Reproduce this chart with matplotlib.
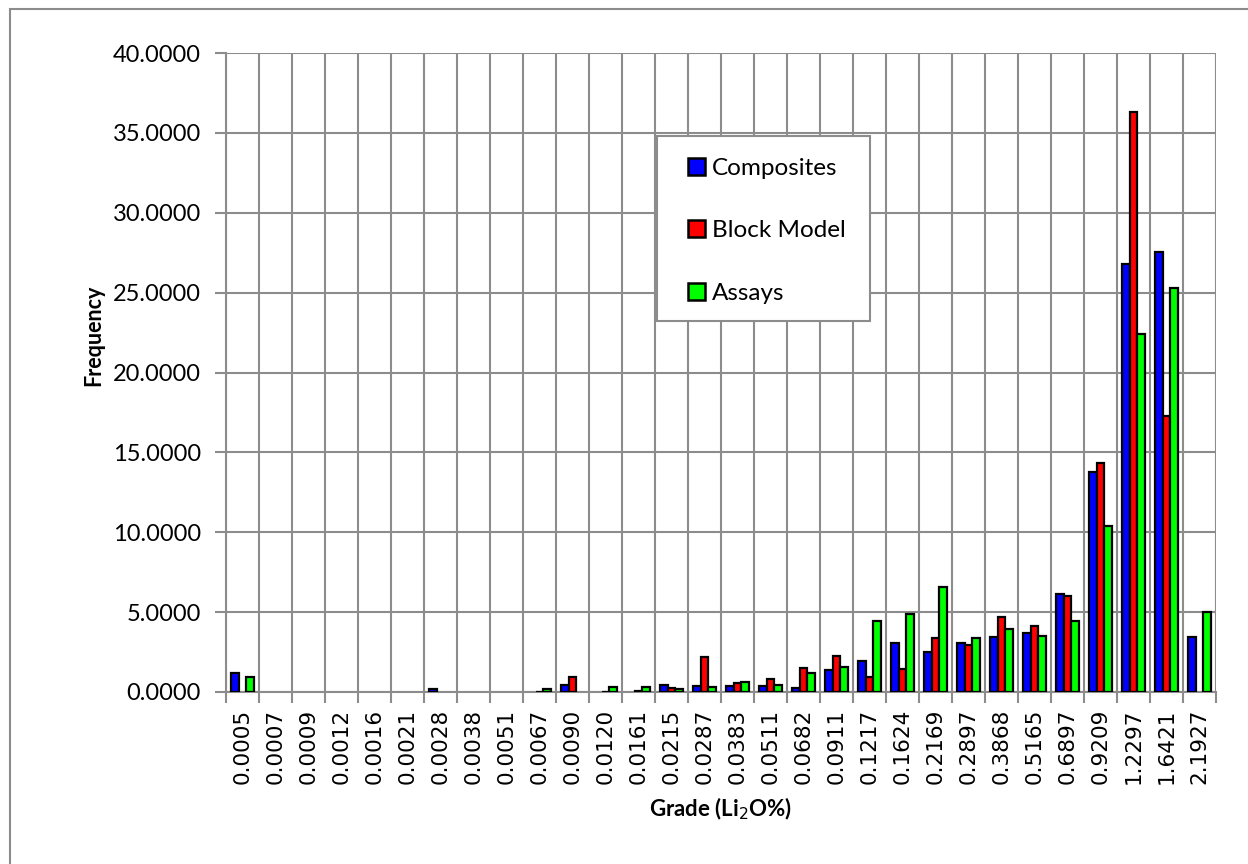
import numpy as np
import matplotlib
matplotlib.use("Agg")
import matplotlib.pyplot as plt
from matplotlib.patches import Rectangle

# Grade bins (Li2O %) and frequency per series
grades = ["0.0005", "0.0007", "0.0009", "0.0012", "0.0016", "0.0021", "0.0028",
          "0.0038", "0.0051", "0.0067", "0.0090", "0.0120", "0.0161", "0.0215",
          "0.0287", "0.0383", "0.0511", "0.0682", "0.0911", "0.1217", "0.1624",
          "0.2169", "0.2897", "0.3868", "0.5165", "0.6897", "0.9209", "1.2297",
          "1.6421", "2.1927"]
composites = [1.17, 0, 0, 0, 0, 0, 0.2, 0, 0, 0, 0.44, 0, 0, 0.42,
              0.4, 0.4, 0.4, 0.23, 1.36, 1.94, 3.09, 2.52, 3.09, 3.45,
              3.67, 6.13, 13.80, 26.78, 27.55, 3.45]
block_model = [0, 0, 0, 0, 0, 0, 0, 0, 0, 0.03, 0.92, 0.03, 0.08, 0.27,
               2.21, 0.54, 0.81, 1.48, 2.27, 0.96, 1.47, 3.39, 2.94, 4.71,
               4.12, 6.01, 14.35, 36.32, 17.25, 0]
assays = [0.96, 0, 0, 0, 0, 0, 0, 0, 0, 0.16, 0, 0.33, 0.32, 0.19,
          0.33, 0.64, 0.44, 1.21, 1.55, 4.43, 4.90, 6.55, 3.35, 3.95,
          3.50, 4.43, 10.37, 22.38, 25.28, 5.03]

font = "Lato"
grid_col = "#8c8c8c"
W, H = 1248, 864

fig = plt.figure(figsize=(12.48, 8.64), dpi=100)
ax = fig.add_axes([226 / W, 1 - 692 / H, (1216 - 226) / W, (692 - 53) / H])

# outer chart border (only top/left visible in the reference)
fig.patches.append(Rectangle((10 / W, -0.1), 1.2, 1 - 9 / H + 0.1,
                             transform=fig.transFigure, fill=False,
                             edgecolor=grid_col, linewidth=1.5))

x = np.arange(len(grades))
w = 0.225
kw = dict(edgecolor="black", linewidth=1.6, zorder=3)
all_bars = []
for off, vals, col, lab in [(-w, composites, "#0000ff", "Composites"),
                            (0, block_model, "#ff0000", "Block Model"),
                            (w, assays, "#00ff00", "Assays")]:
    bars = ax.bar(x + off, vals, w, color=col, label=lab, **kw)
    all_bars.append((bars, vals))

ax.set_xlim(-0.5, len(grades) - 0.5)
ax.set_ylim(0, 40)
ax.set_yticks(np.arange(0, 40.1, 5))
ax.set_yticklabels([f"{v:.4f}" for v in np.arange(0, 40.1, 5)],
                   fontfamily=font, fontsize=17)
ax.set_xticks(x)
ax.set_xticklabels(grades, rotation=90, fontfamily="DejaVu Sans", fontsize=15.5)
ax.set_xticks(np.arange(-0.5, len(grades)), minor=True)
ax.tick_params(axis="x", which="major", length=0, pad=12)
ax.tick_params(axis="x", which="minor", length=8, width=1.5, color=grid_col)
ax.tick_params(axis="y", length=8, width=1.5, color=grid_col, pad=10)

ax.grid(True, axis="y", which="major", color=grid_col, linewidth=1.5, zorder=0)
ax.grid(True, axis="x", which="minor", color=grid_col, linewidth=1.5, zorder=0)
ax.set_axisbelow(True)
for side in ["top", "right"]:
    ax.spines[side].set_visible(False)
for side in ["left", "bottom"]:
    ax.spines[side].set_color(grid_col)
    ax.spines[side].set_linewidth(1.5)

ax.set_ylabel("Frequency", fontfamily=font, fontweight="bold", fontsize=15.5)
ax.yaxis.set_label_coords(-122 / 990, (692 - 335) / 639)
ax.set_xlabel("Grade (Li$_2$O%)", fontfamily=font, fontweight="bold",
              fontsize=16, labelpad=8)

# legend box drawn separately so the padding matches the reference
ax.add_patch(Rectangle((657 / W, 1 - 321 / H), 213 / W, 185 / H,
                       transform=fig.transFigure, facecolor="white",
                       edgecolor=grid_col, linewidth=1.5, zorder=4,
                       clip_on=False))
leg = ax.legend(loc="upper left", bbox_to_anchor=(688 / W, 1 - 158 / H),
                bbox_transform=fig.transFigure, prop={"family": font, "size": 17.5},
                frameon=False, handlelength=0.7, handleheight=0.7,
                handletextpad=0.3, labelspacing=1.7, borderpad=0,
                borderaxespad=0)
leg.set_zorder(5)
for h in leg.legend_handles:
    h.set_linewidth(1.8)

# hide zero-height bars (after the legend so its handles stay visible)
for bars, vals in all_bars:
    for b, v in zip(bars, vals):
        if v == 0:
            b.set_visible(False)
for h in leg.legend_handles:
    h.set_visible(True)

fig.savefig("out.png", dpi=100)
